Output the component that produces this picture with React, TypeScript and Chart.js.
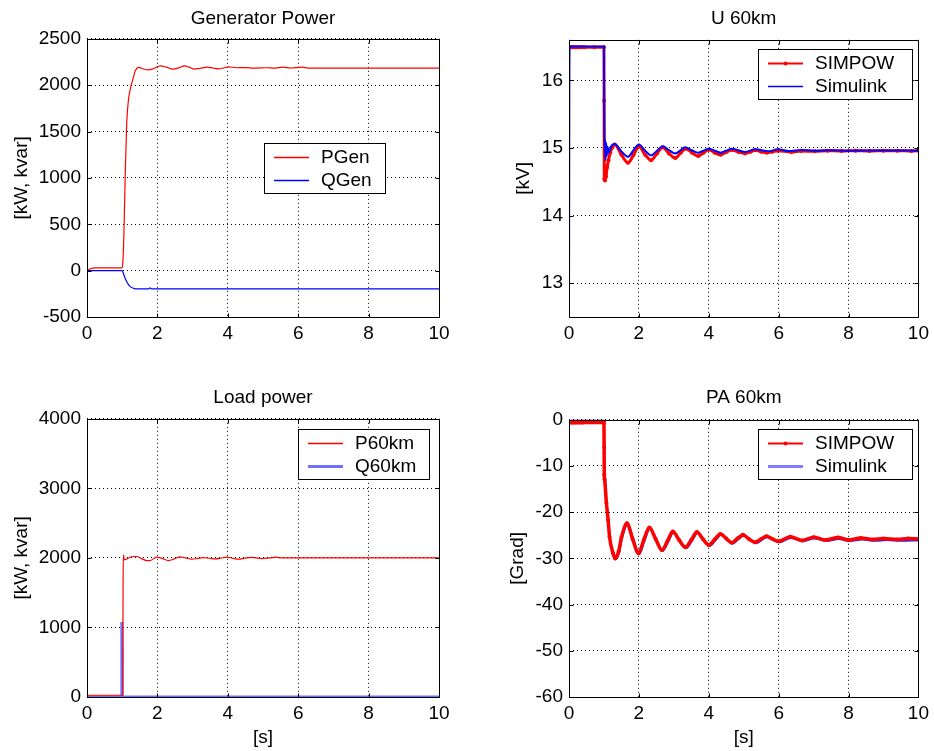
import React, { useEffect, useRef } from "react";
import { Chart, registerables } from "chart.js";
Chart.register(...registerables);

const FONT = '"Liberation Sans", Arial, Helvetica, sans-serif';

// ---------- tick labels ----------
const X_TICKS = [0, 2, 4, 6, 8, 10];
const GEN_Y_TICKS = [-500, 0, 500, 1000, 1500, 2000, 2500];
const U_Y_TICKS = [13, 14, 15, 16];
const LOAD_Y_TICKS = [0, 1000, 2000, 3000, 4000];
const PA_Y_TICKS = [-60, -50, -40, -30, -20, -10, 0];

// ---------- Generator Power [t, kW/kvar] ----------
const PGEN: number[][] = [
  [0, 0], [0.08, 18], [0.23, 29], [0.99, 29], [1.02, 100], [1.05, 420], [1.09, 1100], [1.13, 1600],
  [1.18, 1850], [1.23, 1960], [1.3, 2060], [1.38, 2160], [1.47, 2192], [1.6, 2175], [1.75, 2165],
  [1.9, 2180], [2.08, 2208], [2.25, 2195], [2.44, 2173], [2.6, 2185], [2.77, 2208], [2.9, 2195],
  [3.05, 2173], [3.2, 2180], [3.41, 2194], [3.58, 2185], [3.74, 2176], [3.88, 2185], [4.02, 2198],
  [4.25, 2188], [4.5, 2190], [4.75, 2184], [5.1, 2188], [5.35, 2184], [5.55, 2194], [5.8, 2185],
  [6.1, 2194], [6.3, 2184], [7.0, 2184], [10, 2184],
];
const QGEN: number[][] = [
  [0, 0], [1.0, 0], [1.03, -25], [1.08, -80], [1.13, -120], [1.18, -150], [1.23, -172], [1.3, -188],
  [1.38, -197], [1.75, -197], [1.79, -185], [1.83, -197], [10, -197],
];

// ---------- U 60km [t, kV] ----------
const U_SIMPOW: number[][] = [
  [0, 16.49], [0.03, 16.49], [0.06, 16.49], [0.1, 16.49], [0.14, 16.49], [0.18, 16.49], [0.22, 16.49],
  [0.27, 16.49], [0.32, 16.49], [0.38, 16.49], [0.45, 16.49], [0.72, 16.49], [1.0, 16.49], [1.005, 15.7],
  [1.01, 14.54], [1.03, 14.52], [1.06, 14.58], [1.09, 14.71], [1.13, 14.82], [1.18, 14.93], [1.24, 15.01],
  [1.31, 15.05], [1.5, 14.9], [1.69, 14.78], [1.85, 14.9], [2.0, 15.02], [2.18, 14.9], [2.35, 14.82],
  [2.52, 14.92], [2.68, 15.01], [2.86, 14.92], [3.04, 14.85], [3.2, 14.93], [3.34, 14.99], [3.52, 14.93],
  [3.7, 14.88], [3.85, 14.93], [4.0, 14.975], [4.17, 14.93], [4.34, 14.9], [4.5, 14.94], [4.67, 14.97],
  [4.85, 14.94], [5.04, 14.92], [5.2, 14.945], [5.33, 14.965], [5.5, 14.945], [5.66, 14.93], [5.82, 14.945],
  [5.98, 14.96], [6.36, 14.94], [6.65, 14.955], [7.03, 14.95], [7.4, 14.96], [7.8, 14.955], [8.2, 14.96],
  [8.6, 14.955], [9.0, 14.96], [9.4, 14.96], [9.8, 14.955], [10, 14.96],
];
const U_SIMULINK: number[][] = [
  [0, 12.5], [0.01, 15.85], [0.02, 16.5], [1.0, 16.5], [1.003, 16.0], [1.01, 15.36], [1.02, 14.95],
  [1.03, 15.12], [1.045, 14.82], [1.06, 15.08], [1.08, 14.88], [1.1, 15.02], [1.14, 14.93], [1.2, 15.02],
  [1.31, 15.06], [1.5, 14.95], [1.69, 14.87], [1.85, 14.97], [2.0, 15.05], [2.18, 14.96], [2.35, 14.89],
  [2.52, 14.96], [2.68, 15.025], [2.86, 14.97], [3.04, 14.92], [3.18, 14.96], [3.32, 15.01], [3.5, 14.97],
  [3.7, 14.93], [3.85, 14.96], [4.0, 14.99], [4.17, 14.96], [4.34, 14.93], [4.5, 14.96], [4.67, 14.99],
  [4.85, 14.965], [5.04, 14.94], [5.33, 14.98], [5.7, 14.95], [5.98, 14.98], [6.3, 14.955], [6.65, 14.97],
  [7.0, 14.96], [7.5, 14.965], [8, 14.96], [9, 14.962], [10, 14.96],
];

// ---------- Load power [t, kW/kvar] ----------
const P60: number[][] = [
  [0, 25], [1.0, 25], [1.015, 25], [1.025, 1660], [1.035, 2044], [1.06, 1970], [1.13, 1985], [1.22, 2010],
  [1.32, 2020], [1.41, 2020], [1.55, 1990], [1.7, 1962], [1.79, 1962], [1.98, 2010], [2.15, 1990],
  [2.31, 1962], [2.48, 1985], [2.64, 2015], [2.8, 2000], [2.97, 1981], [3.13, 1990], [3.3, 2005],
  [3.48, 1995], [3.65, 1985], [3.8, 1995], [3.97, 2012], [4.13, 1995], [4.3, 1981], [4.48, 1995],
  [4.65, 2008], [4.8, 2000], [4.95, 1990], [5.2, 2000], [5.39, 2010], [5.5, 2000], [6, 2000], [10, 2000],
];
const Q60: number[][] = [
  [0, 0], [0.985, 0], [0.99, 1080], [0.995, 720], [1.0, 0], [10, 0],
];

// ---------- PA 60km [t, Grad] ----------
const PA_SIMPOW: number[][] = [
  [0, -0.6], [0.04, -0.6], [0.08, -0.6], [0.12, -0.6], [0.16, -0.6], [0.2, -0.6], [0.25, -0.6], [0.3, -0.6],
  [0.35, -0.6], [0.4, -0.6], [1.0, -0.6], [1.005, -6], [1.01, -11.9], [1.02, -13], [1.07, -18], [1.12, -21.7],
  [1.16, -25.3], [1.26, -28.9], [1.32, -30], [1.42, -28.5], [1.5, -25.5], [1.66, -22.4], [1.82, -25.8],
  [1.99, -28.9], [2.14, -26], [2.3, -23.3], [2.48, -25.8], [2.66, -28.2], [2.82, -26.2], [2.97, -24.2],
  [3.15, -26], [3.33, -27.6], [3.5, -26], [3.66, -24.3], [3.83, -25.8], [4.0, -27.1], [4.17, -25.9],
  [4.33, -24.7], [4.5, -25.7], [4.66, -26.6], [4.82, -25.7], [4.98, -24.9], [5.15, -25.8], [5.32, -26.5],
  [5.5, -25.8], [5.65, -25.2], [5.82, -25.8], [6.0, -26.3], [6.33, -25.3], [6.68, -26.1], [7.0, -25.4],
  [7.35, -26.0], [7.7, -25.5], [8.0, -26.0], [8.35, -25.6], [8.7, -25.9], [9.0, -25.7], [9.4, -25.9],
  [9.7, -25.7], [10, -25.8],
];
const PA_SIMULINK: number[][] = [
  [0, 0], [1.0, 0], [1.005, -3], [1.01, -6], [1.03, -12], [1.07, -17.5], [1.12, -21.5], [1.17, -25.5],
  [1.26, -29], [1.34, -30.2], [1.44, -28.5], [1.52, -25.5], [1.68, -22.6], [1.84, -25.8], [2.01, -29.1],
  [2.16, -26.2], [2.32, -23.5], [2.5, -26], [2.68, -28.4], [2.84, -26.4], [2.99, -24.4], [3.17, -26.2],
  [3.35, -27.8], [3.52, -26.2], [3.68, -24.5], [3.85, -26], [4.02, -27.3], [4.19, -26.1], [4.35, -24.9],
  [4.52, -25.9], [4.68, -26.8], [4.84, -25.9], [5.0, -25.1], [5.17, -26], [5.34, -26.7], [5.67, -25.4],
  [6.02, -26.5], [6.35, -25.6], [6.7, -26.3], [7.02, -25.7], [7.37, -26.2], [7.72, -25.8], [8.02, -26.2],
  [8.4, -25.9], [8.75, -26.2], [9.1, -26.0], [9.5, -26.2], [10, -26.1],
];

// ---------- plugins ----------
const framePlugin = {
  id: "matlabFrame",
  afterDatasetsDraw(chart: any) {
    const { ctx, chartArea: a, scales } = chart;
    ctx.save();
    ctx.strokeStyle = "#000";
    ctx.lineWidth = 1;
    const L = Math.round(a.left) + 0.5;
    const R = Math.round(a.right) + 0.5;
    const T = Math.round(a.top) + 0.5;
    const B = Math.round(a.bottom) + 0.5;
    ctx.beginPath();
    ctx.rect(L, T, R - L, B - T);
    const len = 4;
    scales.x.ticks.forEach((t: any) => {
      const px = Math.round(scales.x.getPixelForValue(t.value)) + 0.5;
      ctx.moveTo(px, B); ctx.lineTo(px, B - len);
      ctx.moveTo(px, T); ctx.lineTo(px, T + len);
    });
    scales.y.ticks.forEach((t: any) => {
      const py = Math.round(scales.y.getPixelForValue(t.value)) + 0.5;
      ctx.moveTo(L, py); ctx.lineTo(L + len, py);
      ctx.moveTo(R, py); ctx.lineTo(R - len, py);
    });
    ctx.stroke();
    ctx.restore();
  },
};

const legendPlugin = {
  id: "boxLegend",
  afterDraw(chart: any, _args: any, opts: any) {
    const { ctx } = chart;
    const { x, y, w, h } = opts;
    ctx.save();
    ctx.fillStyle = "#fff";
    ctx.fillRect(x, y, w, h);
    ctx.strokeStyle = "#000";
    ctx.lineWidth = 1;
    ctx.strokeRect(x + 0.5, y + 0.5, w, h);
    ctx.font = `19px ${FONT}`;
    ctx.textBaseline = "middle";
    chart.data.datasets.forEach((ds: any, i: number) => {
      const cy = Math.round(y + 13.5 + i * 23.7) + 0.5;
      ctx.strokeStyle = ds.legendColor || ds.borderColor;
      ctx.lineWidth = ds.legendWidth || 1.5;
      ctx.beginPath();
      ctx.moveTo(x + 10, cy);
      ctx.lineTo(x + 45, cy);
      ctx.stroke();
      if (ds.pointRadius > 0) {
        ctx.fillStyle = ds.borderColor;
        ctx.beginPath();
        ctx.arc(x + 27.5, cy, 2, 0, Math.PI * 2);
        ctx.fill();
      }
      ctx.fillStyle = "#000";
      ctx.fillText(ds.label, x + 57, cy);
    });
    ctx.restore();
  },
};

type Series = {
  label: string;
  data: number[][];
  color: string;
  width: number;
  marker?: boolean;
  order?: number;
  straight?: boolean;
  legendColor?: string;
  legendWidth?: number;
};

type Spec = {
  title: string;
  yLabel: string;
  xLabel?: string;
  yMin: number;
  yMax: number;
  yTicks: number[];
  series: Series[];
  box: { x: number; y: number; w: number; h: number };
  left: number;
  top: number;
  w: number;
  h: number;
  yAxisWidth: number;
  xAxisHeight: number;
  padRight: number;
  titlePad: { top: number; bottom: number };
  yTitlePad: number;
};

function makeConfig(spec: Spec): any {
  const tickFont = { family: FONT, size: 19 };
  return {
    type: "line",
    data: {
      datasets: spec.series.map((s) => ({
        label: s.label,
        data: s.data.map(([x, y]) => ({ x, y })),
        borderColor: s.color,
        backgroundColor: s.color,
        borderWidth: s.width,
        pointRadius: s.marker ? 2 : 0,
        pointBackgroundColor: s.color,
        pointBorderWidth: 0,
        pointHoverRadius: 0,
        cubicInterpolationMode: s.straight ? "default" : "monotone",
        tension: 0,
        fill: false,
        order: s.order ?? 0,
        legendColor: s.legendColor,
        legendWidth: s.legendWidth,
      })),
    },
    options: {
      responsive: false,
      animation: false,
      events: [],
      layout: { padding: { left: 0, top: 0, bottom: 0, right: spec.padRight } },
      plugins: {
        legend: { display: false },
        tooltip: { enabled: false },
        title: {
          display: true,
          text: spec.title,
          fullSize: false,
          color: "#000",
          font: { family: FONT, size: 19, weight: "normal" },
          padding: spec.titlePad,
        },
        boxLegend: spec.box,
      },
      scales: {
        x: {
          type: "linear",
          min: 0,
          max: 10,
          afterBuildTicks: (sc: any) => {
            sc.ticks = X_TICKS.map((v) => ({ value: v }));
          },
          afterFit: (sc: any) => {
            sc.height = spec.xAxisHeight;
          },
          grid: { color: "#000", lineWidth: 1, drawTicks: false },
          border: { display: false, dash: [1, 3] },
          ticks: {
            color: "#000",
            font: tickFont,
            padding: 5,
            maxRotation: 0,
            autoSkip: false,
            callback: (v: any) => String(v),
          },
          title: spec.xLabel
            ? { display: true, text: spec.xLabel, color: "#000", font: tickFont, padding: { top: 0, bottom: 2 } }
            : { display: false },
        },
        y: {
          type: "linear",
          min: spec.yMin,
          max: spec.yMax,
          afterBuildTicks: (sc: any) => {
            sc.ticks = spec.yTicks.map((v) => ({ value: v }));
          },
          afterFit: (sc: any) => {
            sc.width = spec.yAxisWidth;
          },
          grid: { color: "#000", lineWidth: 1, drawTicks: false },
          border: { display: false, dash: [1, 3] },
          ticks: {
            color: "#000",
            font: tickFont,
            padding: 6,
            autoSkip: false,
            callback: (v: any) => String(v),
          },
          title: {
            display: true,
            text: spec.yLabel,
            color: "#000",
            font: tickFont,
            padding: { top: spec.yTitlePad, bottom: 0 },
          },
        },
      },
    },
    plugins: [framePlugin, legendPlugin],
  };
}

const SPECS: Spec[] = [
  {
    title: "Generator Power",
    yLabel: "[kW, kvar]",
    yMin: -500,
    yMax: 2500,
    yTicks: GEN_Y_TICKS,
    series: [
      { label: "PGen", data: PGEN, color: "#ff0000", width: 1.2 },
      { label: "QGen", data: QGEN, color: "#0000ff", width: 1.2 },
    ],
    box: { x: 264, y: 143, w: 121, h: 50 },
    left: 0, top: 0, w: 467, h: 375,
    yAxisWidth: 87, xAxisHeight: 58, padRight: 28,
    titlePad: { top: 7, bottom: 9 },
    yTitlePad: 10,
  },
  {
    title: "U 60km",
    yLabel: "[kV]",
    yMin: 12.5,
    yMax: 16.6,
    yTicks: U_Y_TICKS,
    series: [
      { label: "SIMPOW", data: U_SIMPOW, color: "#ff0000", width: 3, marker: true, order: 1, legendWidth: 2 },
      { label: "Simulink", data: U_SIMULINK, color: "#0000ff", width: 2, order: 0, legendWidth: 1.5 },
    ],
    box: { x: 291, y: 49, w: 154, h: 50 },
    left: 467, top: 0, w: 467, h: 375,
    yAxisWidth: 102, xAxisHeight: 58, padRight: 13,
    titlePad: { top: 7, bottom: 10 },
    yTitlePad: 45,
  },
  {
    title: "Load power",
    yLabel: "[kW, kvar]",
    xLabel: "[s]",
    yMin: 0,
    yMax: 4000,
    yTicks: LOAD_Y_TICKS,
    series: [
      { label: "P60km", data: P60, color: "#ff0000", width: 1.2 },
      { label: "Q60km", data: Q60, color: "#7070ff", width: 3, straight: true, legendWidth: 3 },
    ],
    box: { x: 298, y: 54, w: 131, h: 50 },
    left: 0, top: 375, w: 467, h: 376,
    yAxisWidth: 87, xAxisHeight: 54, padRight: 28,
    titlePad: { top: 11, bottom: 10 },
    yTitlePad: 10,
  },
  {
    title: "PA 60km",
    yLabel: "[Grad]",
    xLabel: "[s]",
    yMin: -60,
    yMax: 0,
    yTicks: PA_Y_TICKS,
    series: [
      { label: "SIMPOW", data: PA_SIMPOW, color: "#ff0000", width: 3.5, marker: true, legendWidth: 2 },
      { label: "Simulink", data: PA_SIMULINK, color: "#2020ff", width: 2, legendColor: "#8080ff", legendWidth: 3 },
    ],
    box: { x: 291, y: 54, w: 154, h: 50 },
    left: 467, top: 375, w: 467, h: 376,
    yAxisWidth: 102, xAxisHeight: 54, padRight: 13,
    titlePad: { top: 11, bottom: 11 },
    yTitlePad: 39,
  },
];

function Panel({ spec }: { spec: Spec }) {
  const ref = useRef<HTMLCanvasElement>(null);
  useEffect(() => {
    const chart = new Chart(ref.current as HTMLCanvasElement, makeConfig(spec));
    return () => chart.destroy();
  }, [spec]);
  return (
    <div style={{ position: "absolute", left: spec.left, top: spec.top, width: spec.w, height: spec.h }}>
      <canvas ref={ref} width={spec.w} height={spec.h} style={{ width: spec.w, height: spec.h, display: "block" }} />
    </div>
  );
}

export default function App() {
  return (
    <div style={{ position: "absolute", left: 0, top: 0, width: 934, height: 751, background: "#fff", overflow: "hidden" }}>
      {SPECS.map((s, i) => (
        <Panel key={i} spec={s} />
      ))}
    </div>
  );
}
